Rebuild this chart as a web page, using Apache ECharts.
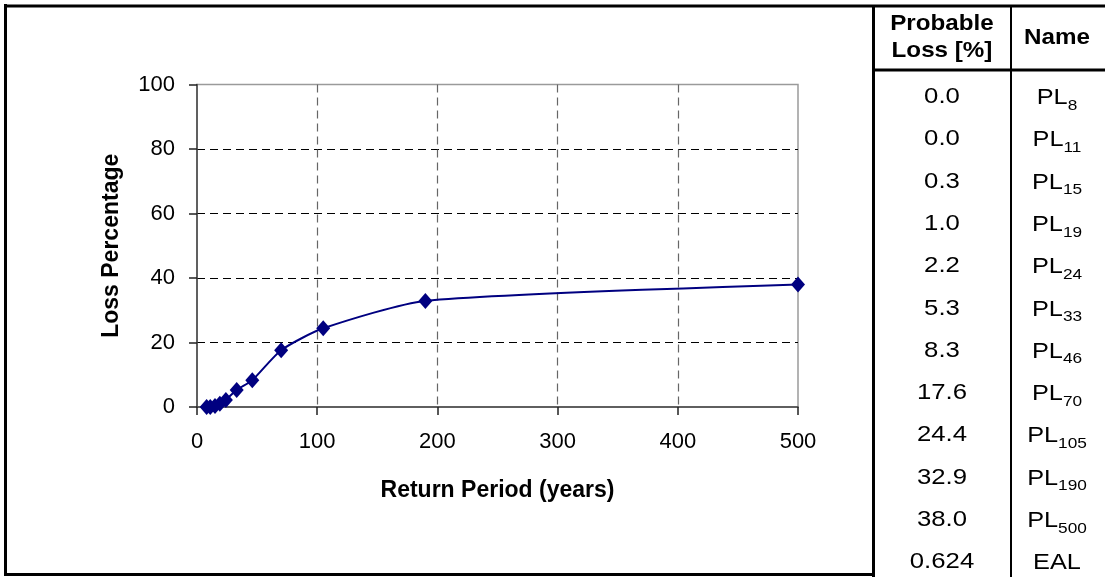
<!DOCTYPE html>
<html>
<head>
<meta charset="utf-8">
<script src="https://cdn.jsdelivr.net/npm/echarts@6/dist/echarts.min.js"></script>
<style>
  html, body { margin: 0; padding: 0; background: #fff; }
  #chart { width: 1105px; height: 577px; }
</style>
</head>
<body>
<div id="chart"></div>
<script>
// ---- data ----
var returnPeriods = [8, 11, 15, 19, 24, 33, 46, 70, 105, 190, 500];
var lossValues = [0.0, 0.0, 0.3, 1.0, 2.2, 5.3, 8.3, 17.6, 24.4, 32.9, 38.0];
var tableValues = ['0.0', '0.0', '0.3', '1.0', '2.2', '5.3', '8.3', '17.6', '24.4', '32.9', '38.0', '0.624'];
var tableNameBase = ['PL', 'PL', 'PL', 'PL', 'PL', 'PL', 'PL', 'PL', 'PL', 'PL', 'PL', 'EAL'];
var tableNameSub = ['8', '11', '15', '19', '24', '33', '46', '70', '105', '190', '500', ''];
var xTicks = [0, 100, 200, 300, 400, 500];
var yTicks = [0, 20, 40, 60, 80, 100];
var headerValue = ['Probable', 'Loss [%]'];
var headerName = 'Name';
var xTitle = 'Return Period (years)';
var yTitle = 'Loss Percentage';

var FONT = "'Liberation Sans', Arial, Helvetica, sans-serif";
var chart = echarts.init(document.getElementById('chart'), null, { renderer: 'canvas' });

var points = returnPeriods.map(function (x, i) { return [x, lossValues[i]]; });

// ---- table graphics ----
var graphics = [];
graphics.push({ type: 'line', shape: { x1: 5.5, y1: 4, x2: 5.5, y2: 576 }, style: { stroke: '#000', lineWidth: 3 } });
graphics.push({ type: 'line', shape: { x1: 4, y1: 6, x2: 1105, y2: 6 }, style: { stroke: '#000', lineWidth: 3 } });
graphics.push({ type: 'line', shape: { x1: 4, y1: 574.5, x2: 873, y2: 574.5 }, style: { stroke: '#000', lineWidth: 3 } });
graphics.push({ type: 'line', shape: { x1: 873.5, y1: 6, x2: 873.5, y2: 577 }, style: { stroke: '#000', lineWidth: 3 } });
graphics.push({ type: 'line', shape: { x1: 1011, y1: 6, x2: 1011, y2: 577 }, style: { stroke: '#000', lineWidth: 2 } });
graphics.push({ type: 'line', shape: { x1: 873, y1: 70, x2: 1105, y2: 70 }, style: { stroke: '#000', lineWidth: 3 } });

var col1 = 942, col2 = 1057;
function hdr(text, x, y) {
  return { type: 'text', x: x, y: y, scaleX: 1.1, style: { text: text, font: 'bold 22px ' + FONT, fill: '#000', textAlign: 'center', textVerticalAlign: 'middle' } };
}
graphics.push(hdr(headerValue[0], col1, 24));
graphics.push(hdr(headerValue[1], col1, 51));
graphics.push(hdr(headerName, col2, 38));

for (var i = 0; i < tableValues.length; i++) {
  var cy = 97 + i * 42.3;
  graphics.push({ type: 'text', x: col1, y: cy, scaleX: 1.17, style: { text: tableValues[i], font: '22px ' + FONT, fill: '#000', textAlign: 'center', textVerticalAlign: 'middle' } });
  var txt = tableNameSub[i] ? '{m|' + tableNameBase[i] + '}{s|' + tableNameSub[i] + '}' : '{m|' + tableNameBase[i] + '}';
  graphics.push({
    type: 'text', x: col2, y: cy, scaleX: 1.15,
    style: {
      text: txt, textAlign: 'center', textVerticalAlign: 'middle',
      rich: {
        m: { fontSize: 22, fontFamily: FONT, fill: '#000', lineHeight: 24, verticalAlign: 'bottom' },
        s: { fontSize: 15, fontFamily: FONT, fill: '#000', lineHeight: 15, verticalAlign: 'bottom', padding: [0, 0, -4, 0] }
      }
    }
  });
}

var option = {
  animation: false,
  backgroundColor: '#fff',
  grid: { left: 197, right: 307, top: 84.5, bottom: 170, show: true, borderColor: '#9a9a9a', borderWidth: 1.5, backgroundColor: 'transparent' },
  xAxis: {
    type: 'value', min: 0, max: 500, interval: 100,
    name: xTitle, nameLocation: 'middle', nameGap: 72,
    nameTextStyle: { fontFamily: FONT, fontSize: 23, fontWeight: 'bold', color: '#000' },
    axisLine: { show: true, onZero: false, lineStyle: { color: '#444', width: 1.5 } },
    axisTick: { show: true, length: 8, inside: false, lineStyle: { color: '#222', width: 1.5 } },
    axisLabel: { margin: 24, fontFamily: FONT, fontSize: 22, color: '#000' },
    splitLine: { show: true, showMinLine: false, showMaxLine: false, lineStyle: { color: '#666', type: [8, 5], width: 1.2 } }
  },
  yAxis: {
    type: 'value', min: 0, max: 100, interval: 20,
    name: yTitle, nameLocation: 'middle', nameGap: 74, nameRotate: 90,
    nameTextStyle: { fontFamily: FONT, fontSize: 23, fontWeight: 'bold', color: '#000' },
    axisLine: { show: true, onZero: false, lineStyle: { color: '#444', width: 1.5 } },
    axisTick: { show: true, length: 8, inside: false, lineStyle: { color: '#222', width: 1.5 } },
    axisLabel: { margin: 22, fontFamily: FONT, fontSize: 22, color: '#000' },
    splitLine: { show: true, showMinLine: false, showMaxLine: false, lineStyle: { color: '#000', type: [8, 5], width: 1 } }
  },
  series: [{
    type: 'line',
    data: points,
    smooth: 0.22,
    symbol: 'diamond',
    symbolSize: [14, 16],
    itemStyle: { color: '#000080' },
    lineStyle: { color: '#000080', width: 2 },
    z: 5
  }],
  graphic: graphics
};
chart.setOption(option);
</script>
</body>
</html>
